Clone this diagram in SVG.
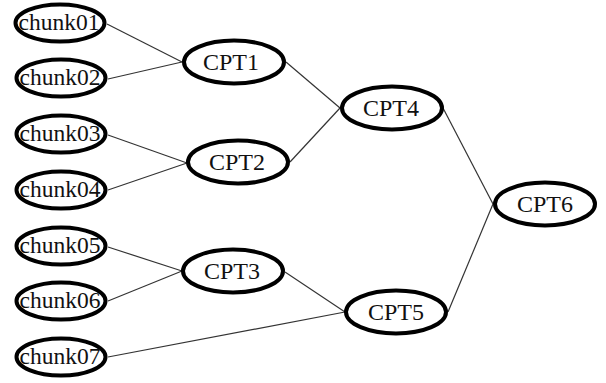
<svg xmlns="http://www.w3.org/2000/svg" width="606" height="383" viewBox="0 0 606 383">
<style>
.n ellipse{fill:#fff;stroke:#000;stroke-width:4}
.n text{font-family:"Liberation Serif",serif;font-size:23.5px;text-anchor:middle;fill:#111}
.c text{font-size:24px}
#edges line{stroke:#333;stroke-width:1.2}
</style>
<rect width="606" height="383" fill="#fff"/>
<g id="edges">
<line x1="107" y1="24" x2="182" y2="62"/>
<line x1="108" y1="79" x2="182" y2="62"/>
<line x1="108" y1="135" x2="187" y2="163"/>
<line x1="108" y1="190" x2="187" y2="163"/>
<line x1="108" y1="247" x2="182" y2="271"/>
<line x1="108" y1="301" x2="182" y2="271"/>
<line x1="108" y1="357" x2="345" y2="312"/>
<line x1="286" y1="62" x2="340" y2="108"/>
<line x1="290" y1="162" x2="340" y2="108"/>
<line x1="285" y1="272" x2="345" y2="312"/>
<line x1="443" y1="108" x2="493" y2="204"/>
<line x1="448" y1="312" x2="493" y2="204"/>
</g>
<g id="chunk01" class="n"><ellipse cx="60" cy="23" rx="44.5" ry="18.5"/><text x="59" y="30">chunk01</text></g>
<g id="chunk02" class="n"><ellipse cx="61" cy="78" rx="44.5" ry="18.5"/><text x="60" y="85">chunk02</text></g>
<g id="chunk03" class="n"><ellipse cx="61" cy="134" rx="44.5" ry="18.5"/><text x="60" y="141">chunk03</text></g>
<g id="chunk04" class="n"><ellipse cx="61" cy="190" rx="44.5" ry="18.5"/><text x="60" y="197">chunk04</text></g>
<g id="chunk05" class="n"><ellipse cx="61" cy="246" rx="44.5" ry="18.5"/><text x="60" y="253">chunk05</text></g>
<g id="chunk06" class="n"><ellipse cx="61" cy="301" rx="44.5" ry="18.5"/><text x="60" y="308">chunk06</text></g>
<g id="chunk07" class="n"><ellipse cx="61" cy="357" rx="44.5" ry="18.5"/><text x="60" y="364">chunk07</text></g>
<g id="CPT1" class="n c"><ellipse cx="234" cy="62" rx="50" ry="21.5"/><text x="231" y="70">CPT1</text></g>
<g id="CPT2" class="n c"><ellipse cx="238" cy="162" rx="50" ry="21.5"/><text x="237" y="170">CPT2</text></g>
<g id="CPT3" class="n c"><ellipse cx="233" cy="271" rx="50" ry="21.5"/><text x="232" y="279">CPT3</text></g>
<g id="CPT4" class="n c"><ellipse cx="392" cy="108" rx="50" ry="21.5"/><text x="391" y="116">CPT4</text></g>
<g id="CPT5" class="n c"><ellipse cx="396" cy="312" rx="50" ry="21.5"/><text x="396" y="320">CPT5</text></g>
<g id="CPT6" class="n c"><ellipse cx="545" cy="204" rx="50" ry="21.5"/><text x="545" y="212">CPT6</text></g>
</svg>
